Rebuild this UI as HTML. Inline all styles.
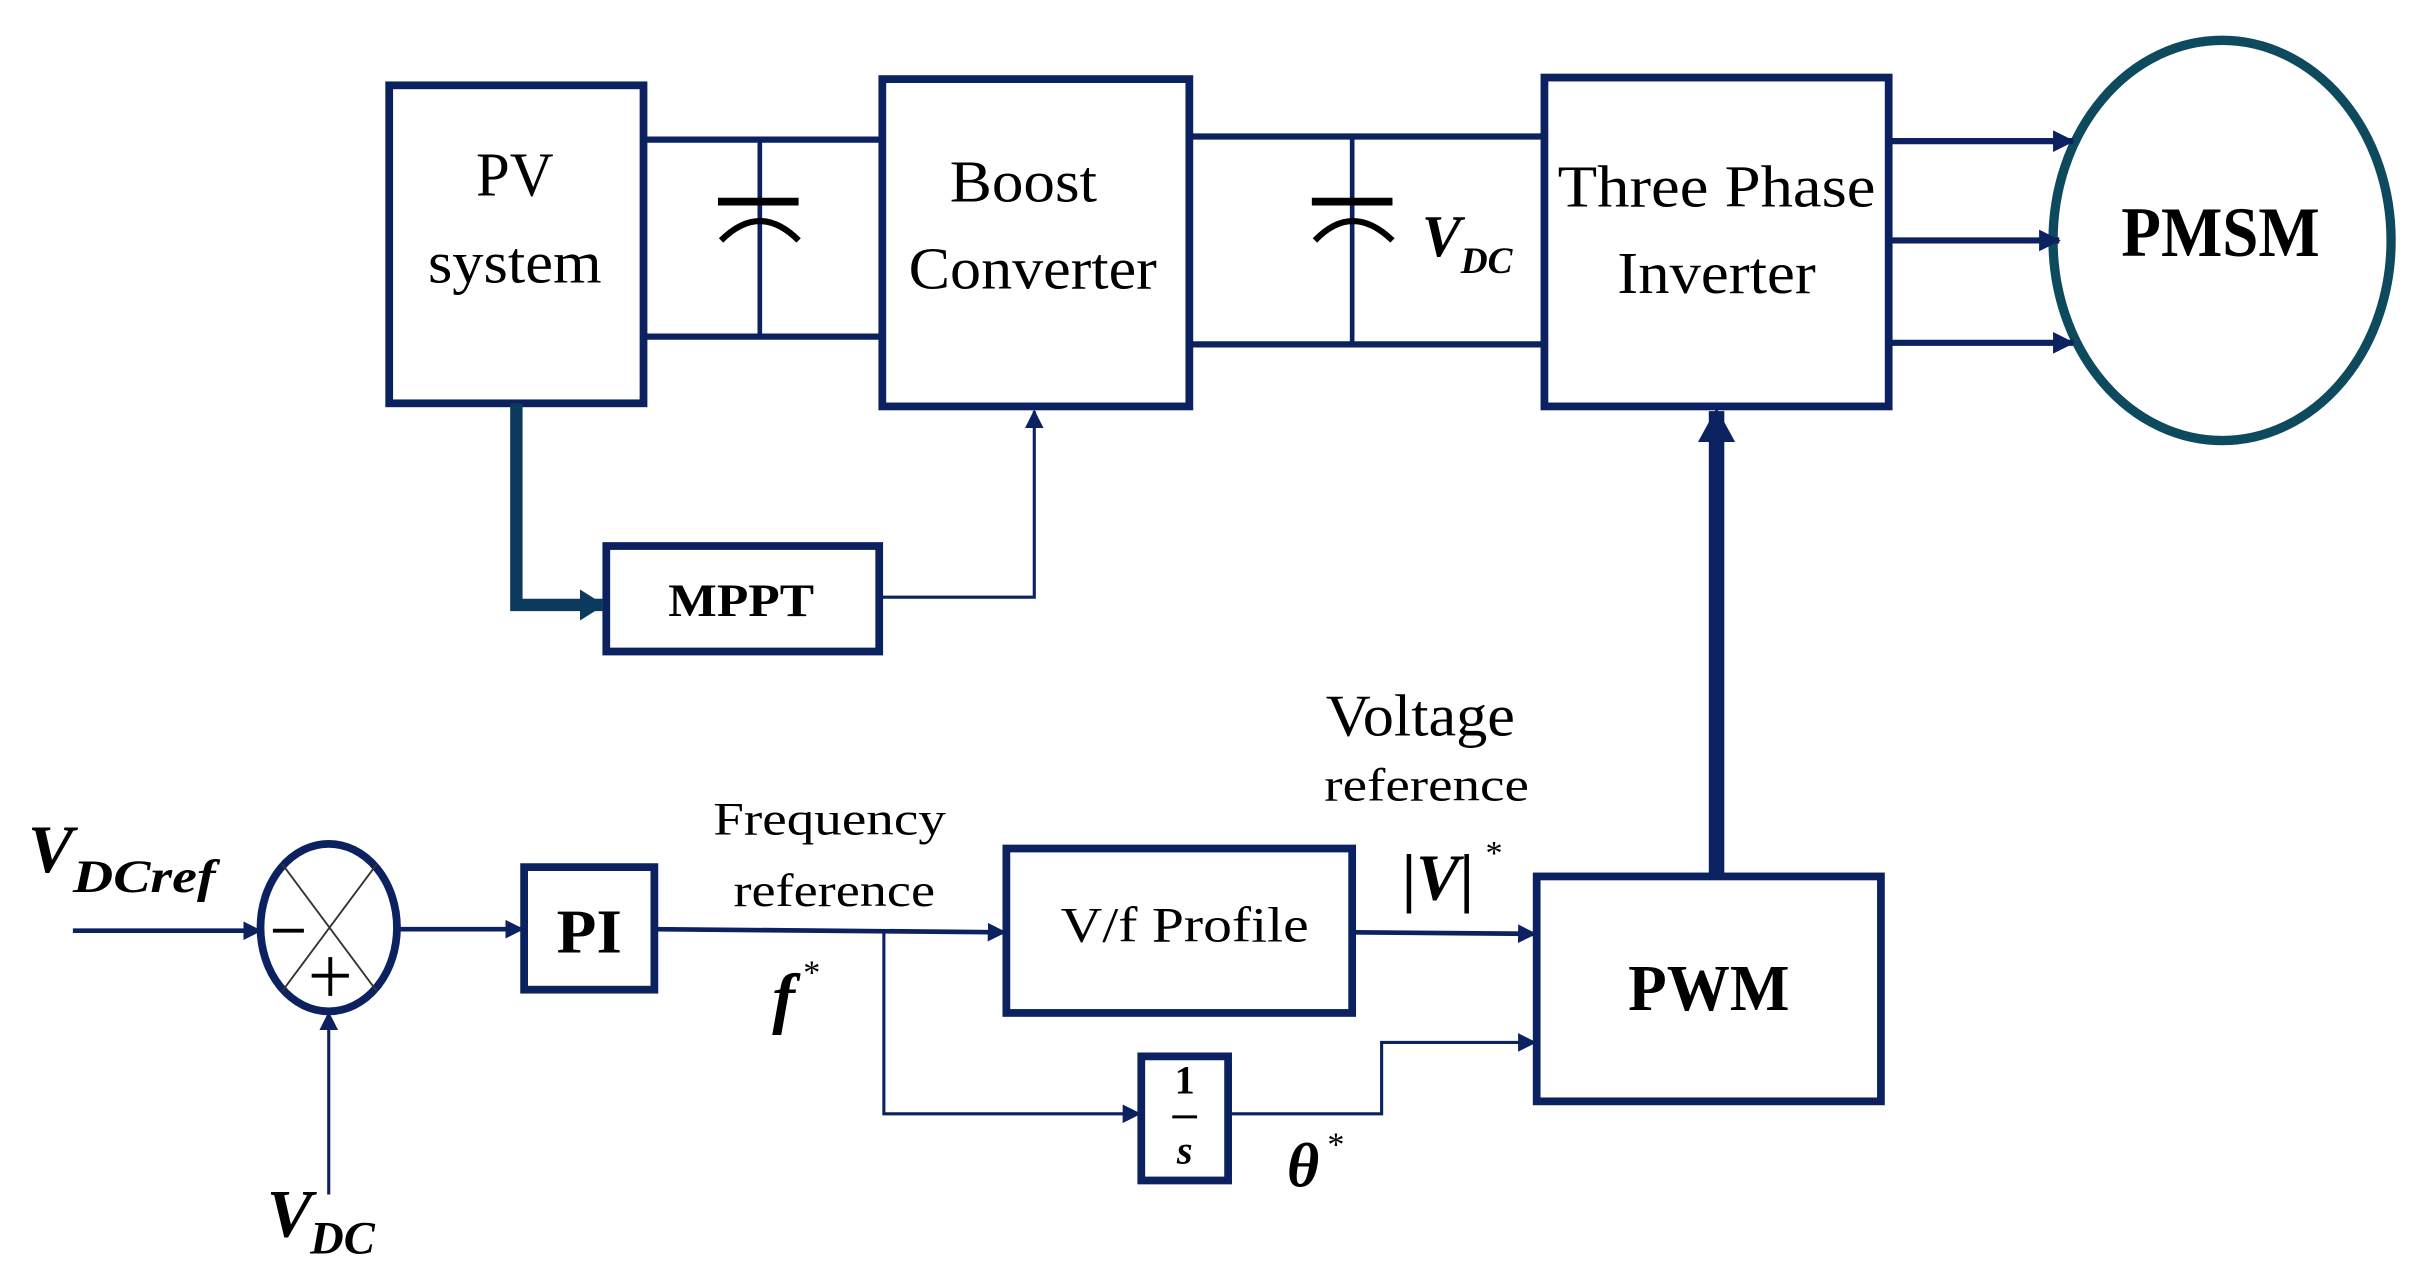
<!DOCTYPE html>
<html><head><meta charset="utf-8"><style>
html,body{margin:0;padding:0;background:#fff;}
svg{display:block;}
text{font-family:"Liberation Serif","Times New Roman",serif;fill:#000;}
</style></head><body>
<svg width="2419" height="1272" viewBox="0 0 1560 820" preserveAspectRatio="none" xmlns="http://www.w3.org/2000/svg">
<defs>
<marker id="a" markerWidth="12" markerHeight="12" refX="11" refY="6" orient="auto" markerUnits="userSpaceOnUse"><path d="M0,0 L12,6 L0,12 Z" fill="#0b2160"/></marker>
<marker id="b" markerWidth="14" markerHeight="14" refX="13" refY="7" orient="auto" markerUnits="userSpaceOnUse"><path d="M0,0 L14,7 L0,14 Z" fill="#0b2160"/></marker>
<marker id="c" markerWidth="22" markerHeight="24" refX="20" refY="12" orient="auto" markerUnits="userSpaceOnUse"><path d="M0,0 L22,12 L0,24 Z" fill="#0b2160"/></marker>
<marker id="d" markerWidth="16" markerHeight="20" refX="15" refY="10" orient="auto" markerUnits="userSpaceOnUse"><path d="M0,0 L16,10 L0,20 Z" fill="#0c3a5c"/></marker>
</defs>
<g fill="none" stroke="#0b2160">
<rect x="251" y="55" width="164" height="205" stroke-width="5"/>
<rect x="569" y="51" width="198" height="211" stroke-width="5"/>
<rect x="996" y="50" width="222" height="212" stroke-width="5"/>
<rect x="391" y="352" width="176" height="68" stroke-width="5"/>
<rect x="991" y="565" width="222" height="145" stroke-width="5"/>
<rect x="338" y="559" width="84" height="79" stroke-width="5"/>
<rect x="649" y="547" width="223" height="106" stroke-width="5"/>
<rect x="736" y="681" width="56" height="80" stroke-width="5"/>
<ellipse cx="1433" cy="155" rx="109" ry="129" stroke="#0e4a5e" stroke-width="6"/>
<ellipse cx="212" cy="598" rx="44" ry="54" stroke-width="5"/>
<line x1="415" y1="90" x2="569" y2="90" stroke-width="4"/>
<line x1="415" y1="217" x2="569" y2="217" stroke-width="4"/>
<line x1="490" y1="90" x2="490" y2="217" stroke-width="3"/>
<line x1="767" y1="88" x2="996" y2="88" stroke-width="4"/>
<line x1="767" y1="222" x2="996" y2="222" stroke-width="4"/>
<line x1="872" y1="88" x2="872" y2="222" stroke-width="3"/>
<line x1="1218" y1="91" x2="1337" y2="91" stroke-width="4" marker-end="url(#b)"/>
<line x1="1218" y1="155" x2="1328" y2="155" stroke-width="4" marker-end="url(#b)"/>
<line x1="1218" y1="221" x2="1337" y2="221" stroke-width="4" marker-end="url(#b)"/>
<polyline points="333,260 333,390 389,390" stroke="#0c3a5c" stroke-width="8" marker-end="url(#d)"/>
<polyline points="567,385 667,385 667,265" stroke-width="2" marker-end="url(#a)"/>
<line x1="1107" y1="563" x2="1107" y2="265" stroke-width="10" marker-end="url(#c)"/>
<line x1="47" y1="600" x2="168" y2="600" stroke-width="3" marker-end="url(#a)"/>
<line x1="212" y1="770" x2="212" y2="653" stroke-width="2" marker-end="url(#a)"/>
<line x1="256" y1="599" x2="337" y2="599" stroke-width="3" marker-end="url(#a)"/>
<line x1="422" y1="599" x2="648" y2="601" stroke-width="3" marker-end="url(#a)"/>
<polyline points="570,600 570,718 735,718" stroke-width="2" marker-end="url(#a)"/>
<polyline points="792,718 891,718 891,672 990,672" stroke-width="2" marker-end="url(#a)"/>
<line x1="872" y1="601" x2="990" y2="602" stroke-width="3" marker-end="url(#a)"/>
</g>
<g stroke="#333" stroke-width="1.2">
<line x1="182" y1="557" x2="243" y2="639"/>
<line x1="243" y1="557" x2="182" y2="639"/>
</g>
<g stroke="#000" stroke-width="2.5">
<line x1="176" y1="600" x2="196" y2="600"/>
<line x1="201" y1="629" x2="225" y2="629"/>
<line x1="213" y1="617" x2="213" y2="642"/>
</g>
<g stroke="#000" fill="none" stroke-width="5">
<line x1="463" y1="130" x2="515" y2="130"/>
<path d="M465,155 Q490,130 515,155" stroke-width="4"/>
<line x1="846" y1="130" x2="898" y2="130"/>
<path d="M848,155 Q872,130 898,155" stroke-width="4"/>
</g>
<text x="332" y="126" font-size="40" text-anchor="middle" textLength="50" lengthAdjust="spacingAndGlyphs">PV</text>
<text x="332" y="182" font-size="38" text-anchor="middle" textLength="112" lengthAdjust="spacingAndGlyphs">system</text>
<text x="660" y="130" font-size="38" text-anchor="middle" textLength="95" lengthAdjust="spacingAndGlyphs">Boost</text>
<text x="666" y="186" font-size="38" text-anchor="middle" textLength="160" lengthAdjust="spacingAndGlyphs">Converter</text>
<text x="1107" y="133" font-size="38" text-anchor="middle" textLength="205" lengthAdjust="spacingAndGlyphs">Three Phase</text>
<text x="1107" y="189" font-size="38" text-anchor="middle" textLength="128" lengthAdjust="spacingAndGlyphs">Inverter</text>
<text x="1432" y="165" font-size="46" font-weight="bold" text-anchor="middle" textLength="128" lengthAdjust="spacingAndGlyphs">PMSM</text>
<text x="478" y="397" font-size="30" font-weight="bold" text-anchor="middle" textLength="94" lengthAdjust="spacingAndGlyphs">MPPT</text>
<text x="917" y="165" font-size="38" font-style="italic" font-weight="bold">V</text>
<text x="942" y="176" font-size="24" font-style="italic" font-weight="bold">DC</text>
<text x="18" y="562" font-size="44" font-style="italic" font-weight="bold">V</text>
<text x="47" y="575" font-size="30" font-style="italic" font-weight="bold" textLength="92" lengthAdjust="spacingAndGlyphs">DCref</text>
<text x="172" y="797" font-size="44" font-style="italic" font-weight="bold">V</text>
<text x="200" y="808" font-size="30" font-style="italic" font-weight="bold">DC</text>
<text x="380" y="614" font-size="40" font-weight="bold" text-anchor="middle" textLength="42" lengthAdjust="spacingAndGlyphs">PI</text>
<text x="535" y="538" font-size="30" text-anchor="middle" textLength="150" lengthAdjust="spacingAndGlyphs">Frequency</text>
<text x="538" y="584" font-size="30" text-anchor="middle" textLength="130" lengthAdjust="spacingAndGlyphs">reference</text>
<text x="498" y="658" font-size="44" font-style="italic" font-weight="bold">f</text>
<text x="518" y="634" font-size="22">*</text>
<text x="764" y="607" font-size="32" text-anchor="middle" textLength="160" lengthAdjust="spacingAndGlyphs">V/f Profile</text>
<text x="916" y="474" font-size="38" text-anchor="middle" textLength="122" lengthAdjust="spacingAndGlyphs">Voltage</text>
<text x="920" y="516" font-size="30" text-anchor="middle" textLength="132" lengthAdjust="spacingAndGlyphs">reference</text>
<text x="904" y="580" font-size="42" font-weight="bold">|<tspan font-style="italic">V</tspan>|</text>
<text x="958" y="557" font-size="22">*</text>
<text x="1102" y="651" font-size="42" font-weight="bold" text-anchor="middle" textLength="104" lengthAdjust="spacingAndGlyphs">PWM</text>
<text x="764" y="705" font-size="26" font-weight="bold" text-anchor="middle">1</text>
<line x1="756" y1="720" x2="772" y2="720" stroke="#000" stroke-width="2"/>
<text x="764" y="750" font-size="26" font-weight="bold" font-style="italic" text-anchor="middle">s</text>
<text x="830" y="765" font-size="40" font-style="italic" font-weight="bold">θ</text>
<text x="856" y="745" font-size="22">*</text>
</svg>
</body></html>
